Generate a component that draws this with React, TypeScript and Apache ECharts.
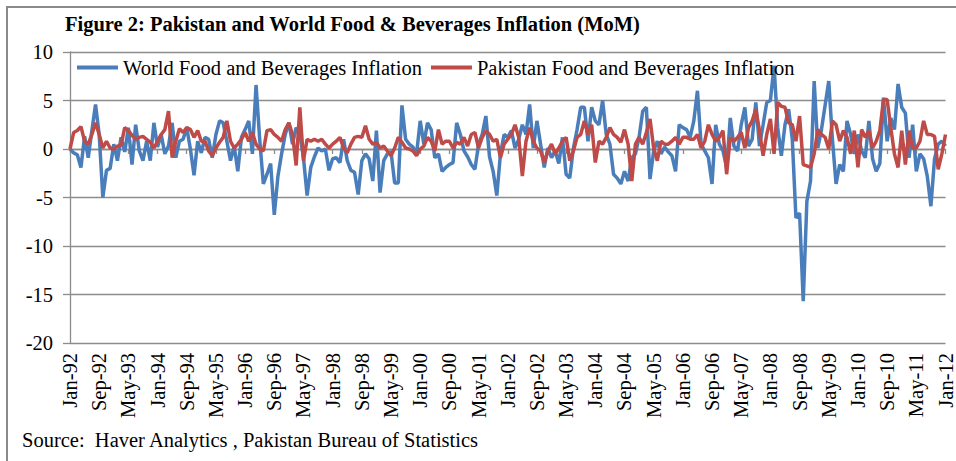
import React, { useEffect, useRef } from "react";
import * as echarts from "echarts";

const MONTH_NAMES = ["Jan", "Feb", "Mar", "Apr", "May", "Jun", "Jul", "Aug", "Sep", "Oct", "Nov", "Dec"];
const START_YEAR = 1992;
const N_MONTHS = 241;
const categories: string[] = [];
for (let i = 0; i < N_MONTHS; i++) {
  const y = START_YEAR + Math.floor(i / 12);
  categories.push(`${MONTH_NAMES[i % 12]}-${String(y % 100).padStart(2, "0")}`);
}

const Y_TICKS = [-20, -15, -10, -5, 0, 5, 10];

const worldFoodInflation = [
  0, -0.4, -0.6, -1.9, 1.3, -0.9, 1.9, 4.6, 1.5, -5.0, -2.2, -2.0,
  0.5, -1.2, 1.2, -0.3, 2.2, -1.6, 2.5, -0.2, -1.2, 0.8, -1.2, 2.7,
  0.2, 1.5, -0.5, 0.3, 2.7, -0.9, 0.8, 1.0, 2.2, 0.0, -2.7, 0.8,
  -0.4, 1.2, 1.0, -0.9, 1.5, 2.9, 2.7, 0.8, -1.2, 0.3, -2.3, 1.2,
  2.0, 2.9, -0.5, 6.6, 1.0, -3.6, -2.6, -1.5, -6.8, -2.8, -0.5, 1.5,
  2.7, 0.5, 2.2, 1.5, -0.9, -4.8, -1.9, -0.8, 0.1, -0.2, 0.0, -2.2,
  -1.0, -0.9, -1.4, 1.0, -1.2, -2.2, -2.4, -4.7, -1.2, -0.5, -1.0, -3.3,
  1.9, -4.5, -1.2, -0.5, -0.3, -3.5, -3.5, 4.5, 1.0, 0.5, 0.2, -0.5,
  2.9, 0.5, 2.7, 2.0, -0.9, -0.5, -2.3, -1.9, -1.6, -1.4, 2.7, 1.5,
  -0.2, -0.8, -1.6, -2.1, 0.5, 1.5, 3.4, -0.8, -2.3, -4.8, -0.5, 1.5,
  1.2, 1.9, 0.1, 1.0, 2.5, 1.5, 4.6, 0.1, 2.9, 0.5, -1.9, 0.1,
  -0.9, -0.2, -1.5, 1.2, -2.6, -3.0, 0.1, 2.0, 4.3, 4.3, 0.8, 4.3,
  2.9, 2.5, 5.0, 1.5, 0.5, -2.6, -3.0, -3.6, -2.3, -3.3, -0.9, -0.5,
  1.2, 3.9, 4.3, -3.1, -0.2, 0.8, -0.5, 0.2, -0.3, -0.7, -2.3, 2.5,
  2.2, 2.0, 1.2, 2.9, 6.0, 0.5, -0.2, -0.9, -3.6, 2.5, 0.5, -0.2,
  -1.9, 3.2, 0.3, -0.2, 2.5, 4.3, 0.3, 1.0, 4.8, 0.3, 2.5, 4.8,
  5.0, 8.6, 2.2, -0.7, 2.5, 4.1, 1.0, -7.1, -6.6, -15.7, -5.4, -3.3,
  7.0, 0.1, 2.0, 4.5, 7.0, 1.0, -3.6, -1.6, -2.3, 2.9, 1.5, -0.5,
  1.5, -0.2, -0.9, 2.9, -1.0, -2.3, -1.5, 5.3, 0.8, 3.2, 2.0, 6.7,
  4.3, 3.7, -0.9, 2.5, -2.3, -0.5, -1.0, -2.8, -5.9, -1.0, 0.5, 0.8,
  0.3,
];

const pakistanFoodInflation = [
  0, 1.7, 1.9, 2.3, 0.8, 0.5, 1.5, 2.7, 1.5, 0.1, 0.8, 0.1,
  0.0, 0.3, 0.4, 2.2, 1.9, 1.4, 1.0, 1.2, 1.3, 1.0, 0.7, 0.1,
  0.8, 1.5, 2.0, 3.9, -0.9, 0.8, 2.1, 1.7, 2.2, 2.0, 1.2, 1.9,
  0.8, 0.8, -0.2, -0.7, 0.1, 0.7, 1.2, 2.9, 0.8, 0.1, 0.5, 1.0,
  1.7, 0.8, 1.7, 0.5, 0.0, -0.2, 1.9, 2.0, 1.5, 1.2, 0.8, 2.0,
  2.7, 1.5, -1.7, 4.3, -1.2, 1.0, 0.8, 1.0, 0.8, 1.0, 0.5, 0.1,
  0.5, 0.8, 1.2, 0.1, -0.4, 0.5, 1.2, 1.3, 1.2, 2.4, 1.0, 0.5,
  0.7, 0.1, 0.3, -0.2, -0.7, 0.1, 1.2, 0.7, 0.1, 0.0, -0.2, -0.7,
  0.0, 0.3, 1.2, 0.8, -0.2, 2.0, 0.5, 0.8, 0.8, 0.1, 0.7, 0.5,
  1.2, 0.3, 1.5, 1.7, 0.1, 1.2, 1.9, 1.5, 0.8, 1.0, -0.9, 0.5,
  1.0, 1.5, 2.5, 1.2, -2.8, 0.8, 2.2, 0.8, 0.1, -0.2, -1.4, -0.2,
  0.5, -0.5, 0.1, 0.8, 1.2, -1.2, -0.2, 1.2, 1.5, 2.9, 1.5, 2.5,
  -1.4, 0.8, 0.5, 1.2, 2.2, 1.5, 1.2, 0.7, 2.0, 0.5, -3.3, 0.5,
  1.2, 0.5, 1.7, 3.1, 0.1, -1.2, 0.8, 0.5, 0.5, 0.8, 1.2, 0.5,
  1.2, 1.2, 1.0, 1.0, 1.5, 0.1, 0.8, 2.5, 1.5, 0.8, 1.2, 1.9,
  -2.6, 1.2, 0.8, 1.2, 1.7, 0.1, 2.2, 2.9, 4.1, 1.9, -0.7, 1.5,
  3.1, -0.5, 4.8, 4.4, 4.3, 2.7, 2.5, 0.8, 3.4, -1.6, -1.75, -1.9,
  -0.5, 2.0, 1.5, 1.2, 0.0, 2.9, 2.5, 0.8, 1.9, 1.2, -0.5, 1.9,
  -1.9, 2.0, 1.2, 1.9, 0.1, 0.8, 1.9, 5.1, 5.1, 2.2, -0.5, -1.9,
  1.9, -1.6, 1.9, 0.1, 0.1, 0.8, 2.9, 1.5, 1.5, 1.3, -2.1, -0.5,
  1.5,
];

const SERIES_NAMES = ["World Food and Beverages Inflation", "Pakistan Food and Beverages Inflation"];
const TITLE = "Figure 2: Pakistan and World Food & Beverages Inflation (MoM)";
const SOURCE = "Source:  Haver Analytics , Pakistan Bureau of Statistics";

const FONT = "'Liberation Serif', 'Times New Roman', serif";
const FS = 20.5;
const GRID_COLOR = "#8c8c8c";

export default function App() {
  const ref = useRef<HTMLDivElement>(null);
  useEffect(() => {
    if (!ref.current) return;
    const chart = echarts.init(ref.current, undefined, { renderer: "svg" });
    chart.setOption({
      animation: false,
      backgroundColor: "#ffffff",
      grid: { left: 70, right: 3, top: 52, bottom: 118, containLabel: false },
      legend: {
        left: 72,
        top: 52,
        icon: "rect",
        itemWidth: 41,
        itemHeight: 4,
        itemGap: 9,
        textStyle: { fontFamily: FONT, fontSize: FS, color: "#000" },
        data: SERIES_NAMES,
      },
      xAxis: [
        {
          type: "category",
          data: categories,
          boundaryGap: false,
          position: "bottom",
          axisLine: { show: false, onZero: false },
          axisTick: { show: false },
          splitLine: { show: false },
          axisLabel: {
            interval: 7,
            rotate: 90,
            margin: 10,
            fontFamily: FONT,
            fontSize: FS,
            color: "#000",
          },
        },
        {
          type: "category",
          data: categories,
          boundaryGap: false,
          position: "bottom",
          axisLine: { show: true, onZero: true, lineStyle: { color: GRID_COLOR, width: 1.3 } },
          axisTick: { show: true, interval: 7, length: 5, lineStyle: { color: GRID_COLOR, width: 1.3 } },
          axisLabel: { show: false },
          splitLine: { show: false },
        },
      ],
      yAxis: {
        type: "value",
        min: Y_TICKS[0],
        max: Y_TICKS[Y_TICKS.length - 1],
        interval: 5,
        axisLine: { show: true, lineStyle: { color: GRID_COLOR, width: 1.3 } },
        axisTick: { show: true, length: 7, lineStyle: { color: GRID_COLOR, width: 1.3 } },
        splitLine: { show: true, lineStyle: { color: GRID_COLOR, width: 1.3 } },
        axisLabel: { fontFamily: FONT, fontSize: FS, color: "#000", margin: 17 },
      },
      series: [
        {
          name: SERIES_NAMES[0],
          type: "line",
          xAxisIndex: 0,
          data: worldFoodInflation,
          symbol: "none",
          lineStyle: { color: "#4a7ebb", width: 3.5 },
          itemStyle: { color: "#4a7ebb" },
          z: 3,
        },
        {
          name: SERIES_NAMES[1],
          type: "line",
          xAxisIndex: 0,
          data: pakistanFoodInflation,
          symbol: "none",
          lineStyle: { color: "#be4b48", width: 3.5 },
          itemStyle: { color: "#be4b48" },
          z: 4,
        },
      ],
      graphic: [
        {
          type: "rect",
          silent: true,
          shape: { x: 7, y: 7, width: 990, height: 490 },
          style: { fill: "none", stroke: "#8a8a8a", lineWidth: 2 },
        },
        {
          type: "text",
          x: 65,
          y: 24,
          style: {
            text: TITLE,
            font: `bold ${FS}px ${FONT}`,
            fill: "#000",
            textVerticalAlign: "middle",
          },
        },
        {
          type: "text",
          x: 22,
          y: 440,
          style: {
            text: SOURCE,
            font: `${FS}px ${FONT}`,
            fill: "#000",
            textVerticalAlign: "middle",
          },
        },
      ],
    });
    return () => chart.dispose();
  }, []);
  return (
    <div
      ref={ref}
      style={{ position: "fixed", left: 0, top: 0, width: 956, height: 461 }}
    />
  );
}
